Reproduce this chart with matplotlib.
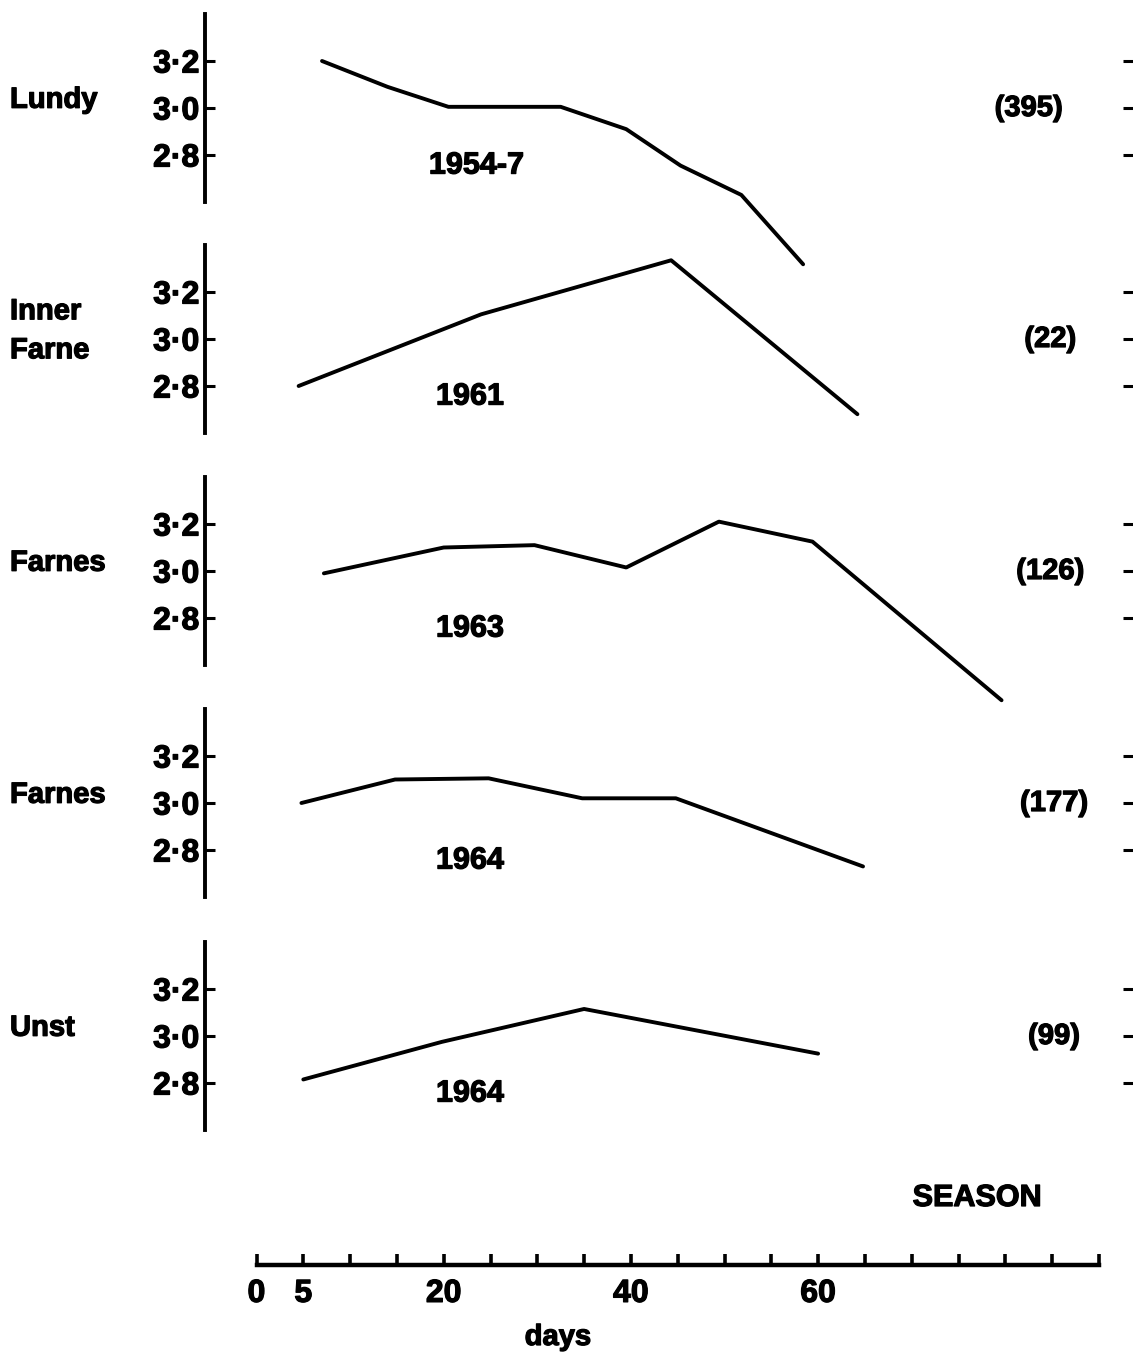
import matplotlib
matplotlib.use("Agg")
import matplotlib.pyplot as plt
from matplotlib import transforms
import matplotlib.patheffects as pe

plt.rcParams['font.family'] = ['Liberation Sans', 'DejaVu Sans']
plt.rcParams['font.weight'] = 'bold'

# panel labels
sites = ["Lundy", "Inner\nFarne", "Farnes", "Farnes", "Unst"]
years = ["1954-7", "1961", "1963", "1964", "1964"]
counts = ["(395)", "(22)", "(126)", "(177)", "(99)"]

# mean clutch size through the season
lundy_days = [7, 14, 20.5, 32.5, 39.5, 45.3, 51.8, 58.4]
lundy_vals = [3.20, 3.09, 3.005, 3.005, 2.91, 2.755, 2.63, 2.335]
inner_days = [4.5, 24, 44.3, 64.2]
inner_vals = [2.80, 3.105, 3.335, 2.68]
farnes63_days = [7.2, 20, 29.7, 39.5, 49.4, 59.4, 79.6]
farnes63_vals = [2.99, 3.10, 3.11, 3.015, 3.21, 3.125, 2.45]
farnes64_days = [4.8, 14.8, 24.8, 34.8, 44.8, 64.8]
farnes64_vals = [3.0, 3.10, 3.105, 3.02, 3.02, 2.73]
unst_days = [5, 19.8, 35, 60]
unst_vals = [2.815, 2.975, 3.115, 2.925]

all_days = [lundy_days, inner_days, farnes63_days, farnes64_days, unst_days]
all_vals = [lundy_vals, inner_vals, farnes63_vals, farnes64_vals, unst_vals]

y_ticks = [2.8, 3.0, 3.2]
y_labels = ["2·8", "3·0", "3·2"]
day_ticks = list(range(0, 95, 5))
day_labels = ["0", "5", "", "", "20", "", "", "", "40", "", "", "", "60",
              "", "", "", "", "", ""]

# layout (pixels)
W, H = 1133, 1362
x0_px, day0_px, px_per_day = 205, 256.5, 9.36
xlim = ((x0_px - day0_px) / px_per_day, (W - day0_px) / px_per_day)
centers = [108, 339, 571, 803, 1036]
count_x = [82.5, 84.8, 84.8, 85.2, 85.2]

# slightly heavier lettering, like the printed original
heavy = [pe.withStroke(linewidth=0.9, foreground='black')]

fig = plt.figure(figsize=(W / 100, H / 100), dpi=100)

for i in range(5):
    c = centers[i]
    ax = fig.add_axes([x0_px / W, (H - c - 117.5) / H, (W - x0_px) / W, 235 / H])
    ax.patch.set_visible(False)
    ax.set_xlim(xlim)
    ax.set_ylim(2.5, 3.5)
    ax.plot(all_days[i], all_vals[i], color='black', lw=2.8, clip_on=False,
            solid_joinstyle='round', solid_capstyle='round')
    for s in ['top', 'bottom', 'right']:
        ax.spines[s].set_visible(False)
    ax.spines['left'].set_bounds(2.6, 3.4)
    ax.spines['left'].set_linewidth(2.8)
    ax.set_xticks([])
    ax.set_yticks(y_ticks, y_labels)
    ax.tick_params(axis='y', direction='in', length=7, width=2.2,
                   labelsize=23, pad=4, right=True)
    for lab in ax.get_yticklabels():
        lab.set_path_effects(heavy)

    # site name at the far left
    trans = transforms.blended_transform_factory(fig.transFigure, ax.transData)
    ax.text(10 / W, 3.035, sites[i], transform=trans, ha='left', va='center',
            fontsize=21, linespacing=1.5, path_effects=heavy)
    ax.text(23.5 if i == 0 else 22.8, 2.755, years[i], ha='center', va='center',
            fontsize=22, path_effects=heavy)
    ax.text(count_x[i], 3.0, counts[i], ha='center', va='center', fontsize=21,
            path_effects=heavy)

# season axis at the bottom
axb = fig.add_axes([x0_px / W, (H - 1265) / H, (W - x0_px) / W, 0.01])
axb.patch.set_visible(False)
axb.set_xlim(xlim)
for s in ['top', 'left', 'right']:
    axb.spines[s].set_visible(False)
axb.spines['bottom'].set_bounds(0, 90)
axb.spines['bottom'].set_linewidth(3.2)
axb.set_yticks([])
axb.set_xticks(day_ticks, day_labels)
axb.tick_params(axis='x', direction='in', length=8, width=2.6, pad=10,
                labelsize=23)
for lab in axb.get_xticklabels():
    lab.set_path_effects(heavy)

fig.text(977 / W, 1 - 1198 / H, "SEASON", ha='center', va='center', fontsize=22,
         path_effects=heavy)
fig.text(558 / W, 1 - 1337 / H, "days", ha='center', va='center', fontsize=21,
         path_effects=heavy)

fig.savefig("out.png", dpi=100)
